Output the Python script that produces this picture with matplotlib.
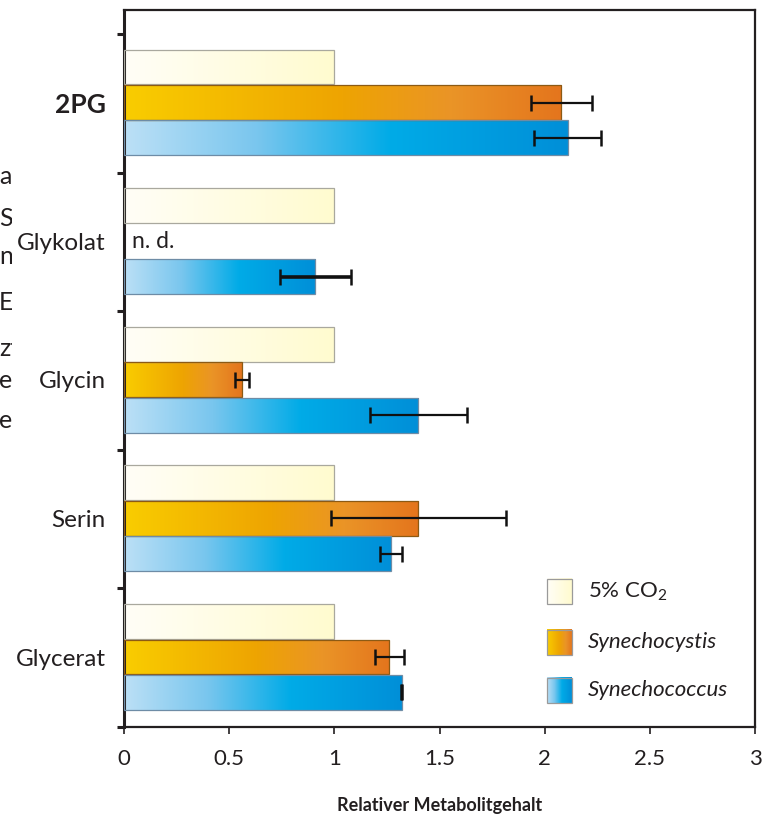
import numpy as np
import matplotlib
matplotlib.use("Agg")
import matplotlib.pyplot as plt
from matplotlib.colors import LinearSegmentedColormap
from matplotlib.patches import Rectangle

plt.rcParams['font.family'] = ['Lato', 'DejaVu Sans']
plt.rcParams['mathtext.fontset'] = 'custom'
plt.rcParams['mathtext.rm'] = 'Lato'
plt.rcParams['mathtext.it'] = 'Lato:italic'

# ---- data (top to bottom) ----
categories = ["2PG", "Glykolat", "Glycin", "Serin", "Glycerat"]
control = [1.0, 1.0, 1.0, 1.0, 1.0]
synechocystis = [2.08, np.nan, 0.56, 1.40, 1.26]
synechocystis_err = [0.146, np.nan, 0.033, 0.418, 0.069]
synechococcus = [2.11, 0.91, 1.40, 1.27, 1.32]
synechococcus_err = [0.16, 0.169, 0.23, 0.052, 0.003]
series_labels = ["5% CO$_2$", "Synechocystis", "Synechococcus"]
xticks = [0, 0.5, 1, 1.5, 2, 2.5, 3]
xtick_labels = ["0", "0.5", "1", "1.5", "2", "2.5", "3"]
xlabel = "Relativer Metabolitgehalt"
nd_label = "n. d."
fragments = ["a", "S", "n", "E", "zt", "e", "er"]

# ---- styles ----
cmaps = [
    LinearSegmentedColormap.from_list("w", ["#FFFEF7", "#FFFBCF"]),
    LinearSegmentedColormap.from_list("o", [(0, "#F9CD00"), (0.5, "#EEA402"), (0.75, "#EA9427"), (1, "#E4751D")]),
    LinearSegmentedColormap.from_list("b", [(0, "#BCE0F6"), (0.3, "#79C6EE"), (0.6, "#00ABE7"), (1, "#008FD8")]),
]
edgecolors = ["#A9A89E", "#8C5A14", "#6E8CA6"]
offsets = [0.762, 0.505, 0.25]
bar_h = 0.252
dark = "#231F20"

fig = plt.figure(figsize=(7.64, 8.18), dpi=100)
ax = fig.add_axes([124/764, 91/818, 631/764, 717/818])
ax.set_zorder(1)
ax.patch.set_alpha(0)

n = len(categories)
base = np.arange(n)[::-1].astype(float)  # bottom edge of each group
grad = np.linspace(0, 1, 256).reshape(1, -1)

all_vals = [control, synechocystis, synechococcus]
for s, vals in enumerate(all_vals):
    ys = base + offsets[s]
    v = np.array(vals, dtype=float)
    ok = ~np.isnan(v)
    bars = ax.barh(ys[ok], v[ok], height=bar_h, facecolor="none",
                   edgecolor=edgecolors[s], linewidth=0.9, zorder=3)
    for p in bars.patches:
        x0, y0, w, h = p.get_x(), p.get_y(), p.get_width(), p.get_height()
        im = ax.imshow(grad, cmap=cmaps[s], extent=[x0, x0 + w, y0, y0 + h],
                       aspect="auto", interpolation="bicubic", zorder=2)
        im.set_clip_path(p)

# error bars
for s, (vals, errs) in enumerate([(synechocystis, synechocystis_err),
                                  (synechococcus, synechococcus_err)], start=1):
    v = np.array(vals, dtype=float)
    e = np.array(errs, dtype=float)
    ok = ~np.isnan(v)
    ys = (base + offsets[s])[ok]
    cont = ax.errorbar(v[ok], ys, xerr=e[ok], fmt="none", ecolor="#111111",
                       elinewidth=1.6, capsize=5.5, capthick=1.8, zorder=4)
    if s == 2:
        lw = [2.6 if c == "Glykolat" else 1.6
              for c, good in zip(categories, ok) if good]
        cont.lines[2][0].set_linewidths(lw)

# n. d.
gi = categories.index("Glykolat")
ax.text(0.04, base[gi] + offsets[1], nd_label, fontsize=16.5, color=dark,
        va="center", ha="left")

ax.set_xlim(0, 3)
ax.set_ylim(0, 717 / 138.6)
ax.set_xticks(xticks)
ax.set_xticklabels(xtick_labels, fontsize=16, color=dark)
ax.tick_params(axis="x", direction="out", length=5, width=1.2, pad=11, colors=dark)

ax.set_yticks(base + offsets[1])
ax.set_yticklabels(categories, fontsize=17.5, color=dark)
ax.get_yticklabels()[0].set_fontweight("bold")
ax.get_yticklabels()[0].set_fontsize(19)
ax.tick_params(axis="y", which="major", length=0, pad=13)
ax.set_yticks(np.arange(n + 1), minor=True)
ax.tick_params(axis="y", which="minor", direction="out", length=5, width=2.2, colors=dark)

ax.set_xlabel(xlabel, fontsize=13, fontweight="bold", color=dark, labelpad=20)

for side, sp in ax.spines.items():
    sp.set_color(dark)
    sp.set_linewidth(1.6)
ax.spines["left"].set_linewidth(2.2)

# legend
bx, bw, bh = 0.670, 0.0396, 0.0349
box_bottoms = [0.1715, 0.1004, 0.0335]
text_y = [0.189, 0.118, 0.051]
for s in range(3):
    r = Rectangle((bx, box_bottoms[s]), bw, bh, transform=ax.transAxes,
                  facecolor="none", edgecolor="#9A9A9A", linewidth=0.9, zorder=6)
    ax.add_patch(r)
    ax.imshow(grad, cmap=cmaps[s], extent=[bx, bx + bw, box_bottoms[s], box_bottoms[s] + bh],
              transform=ax.transAxes, aspect="auto", zorder=5)
    ax.text(0.735, text_y[s], series_labels[s], transform=ax.transAxes, fontsize=16,
            color=dark, va="center", ha="left", style=("normal" if s == 0 else "italic"))

ax.set_xlim(0, 3)
ax.set_ylim(0, 717 / 138.6)

# background text fragments at the left edge
frag_y = [176, 218, 256, 303, 348, 381, 421]
for t, yp in zip(fragments, frag_y):
    fig.text(-1 / 764, 1 - yp / 818, t, fontsize=18, color=dark, va="center",
             ha="left", zorder=0.2)
fig.patches.append(Rectangle((12 / 764, 0), 1, 1, transform=fig.transFigure,
                             facecolor="white", edgecolor="none", zorder=0.5))

fig.savefig("out.png", dpi=100)
